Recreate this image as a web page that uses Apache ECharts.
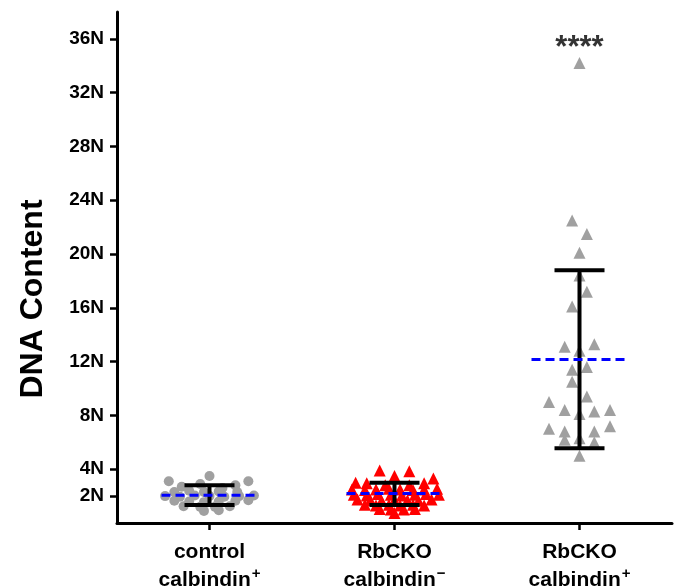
<!DOCTYPE html>
<html>
<head>
<meta charset="utf-8">
<script src="https://cdn.jsdelivr.net/npm/echarts@6/dist/echarts.min.js"></script>
<style>
  html, body { margin: 0; padding: 0; background: #fff; }
  #chart { width: 678px; height: 588px; }
</style>
</head>
<body>
<div id="chart"></div>
<script>
// group labels (top line, bottom line, superscript sign)
const groupTop = ['control', 'RbCKO', 'RbCKO'];
const groupSign = ['+', '\u2212', '+'];

// y tick values (in N)
const yTicks = [2, 4, 8, 12, 16, 20, 24, 28, 32, 36];

// control calbindin+ : DNA content and horizontal jitter (in group widths)
const ctrlVals = [3.5, 3.1, 3.1, 2.7, 2.8, 2.9, 2.6, 2.3, 2.4, 2.3, 2.35, 2.3,
  2.0, 1.95, 2.05, 2.0, 1.95, 2.0, 2.05, 1.65, 1.6, 1.55, 1.6, 1.65, 1.7,
  1.25, 1.2, 1.2, 1.25, 0.9, 0.95];
const ctrlJitter = [0, -0.22, 0.21, -0.15, 0.14, -0.05, 0.07, -0.19, -0.11, -0.03, 0.05, 0.15,
  -0.24, -0.16, -0.08, 0, 0.08, 0.16, 0.24, -0.19, -0.11, -0.03, 0.05, 0.14, 0.21,
  -0.14, -0.05, 0.03, 0.11, -0.03, 0.05];

// RbCKO calbindin-
const negVals = [3.9, 3.85, 3.5, 3.0, 2.95, 3.3, 2.95, 2.8, 2.8,
  2.5, 2.45, 2.5, 2.55, 2.5, 2.45, 2.5, 2.55,
  2.1, 2.05, 2.15, 2.1, 2.05, 2.1, 2.15, 2.1,
  1.75, 1.7, 1.65, 1.7, 1.7, 1.65, 1.75,
  1.35, 1.3, 1.35, 1.3, 1.35, 1.3,
  1.05, 1.0, 1.0, 1.05, 0.75];
const negJitter = [-0.08, 0.08, 0, -0.21, -0.15, 0.21, 0.16, -0.05, 0.08,
  -0.23, -0.16, -0.1, -0.03, 0.03, 0.1, 0.16, 0.23,
  -0.22, -0.15, -0.09, -0.02, 0.04, 0.11, 0.17, 0.24,
  -0.2, -0.13, -0.07, 0, 0.07, 0.13, 0.2,
  -0.16, -0.1, -0.03, 0.03, 0.1, 0.16,
  -0.08, -0.02, 0.05, 0.11, 0];

// RbCKO calbindin+
const posVals = [34.2, 22.5, 21.5, 20.1, 18.4, 17.2, 16.1, 13.1, 12.8, 13.3, 11.4, 11.6,
  10.5, 9.4, 9.0, 8.4, 8.1, 8.3, 8.4, 7.0, 6.8, 6.8, 7.2, 6.2, 6.3, 6.0, 5.0];
const posJitter = [0, -0.04, 0.04, 0, 0, 0.04, -0.04, -0.08, 0, 0.08, -0.04, 0.04,
  -0.04, 0.04, -0.165, -0.08, 0, 0.08, 0.165, -0.165, -0.08, 0.08, 0.165, -0.08, 0, 0.08, 0];

// mean and error bar limits per group
const meanVals = [2.07, 2.2, 12.15];
const barLow = [1.33, 1.33, 5.55];
const barHigh = [2.8, 3.0, 18.8];

// significance mark
const sigText = '****';
const sigY = 35.3;

const chart = echarts.init(document.getElementById('chart'));

const font = 'Liberation Sans, Arial, sans-serif';

function pts(vals, jit, g) {
  return vals.map((v, i) => [g + jit[i], v]);
}

const option = {
  animation: false,
  grid: { left: 117, right: 6, top: 12, bottom: 65, outerBoundsMode: 'none', containLabel: false },
  xAxis: {
    type: 'value',
    min: 0.5,
    max: 3.5,
    splitLine: { show: false },
    axisLine: { lineStyle: { color: '#000', width: 3 } },
    axisTick: { customValues: [1, 2, 3], length: 7, lineStyle: { color: '#000', width: 2.5 } },
    axisLabel: {
      customValues: [1, 2, 3],
      margin: 15,
      formatter: v => {
        const i = Math.round(v) - 1;
        return '{b|' + groupTop[i] + '}\n{b|calbindin}{s|' + groupSign[i] + '}';
      },
      rich: {
        b: { fontFamily: font, fontWeight: 'bold', fontSize: 21, lineHeight: 28, color: '#000' },
        s: { fontFamily: font, fontWeight: 'bold', fontSize: 15, lineHeight: 28, color: '#000',
             verticalAlign: 'top', padding: [0, 0, 0, 1] }
      }
    }
  },
  yAxis: {
    type: 'value',
    min: 0,
    max: 38,
    splitLine: { show: false },
    axisLine: { show: true, lineStyle: { color: '#000', width: 3 } },
    axisTick: { show: true, customValues: yTicks, length: 7, lineStyle: { color: '#000', width: 2.5 } },
    axisLabel: {
      customValues: yTicks,
      margin: 13,
      formatter: v => v + 'N',
      fontFamily: font,
      fontWeight: 'bold',
      fontSize: 19,
      color: '#000'
    }
  },
  graphic: [{
    type: 'text',
    x: 33,
    y: 299,
    rotation: Math.PI / 2,
    style: {
      text: 'DNA Content',
      font: 'bold 32px ' + font,
      fill: '#000',
      align: 'center',
      verticalAlign: 'middle'
    }
  }],
  series: [
    {
      type: 'scatter',
      symbol: 'circle',
      symbolSize: 10,
      itemStyle: { color: '#a0a0a0', opacity: 1 },
      data: pts(ctrlVals, ctrlJitter, 1)
    },
    {
      type: 'scatter',
      symbol: 'triangle',
      symbolSize: 12,
      itemStyle: { color: '#ff0000', opacity: 1 },
      data: pts(negVals, negJitter, 2)
    },
    {
      type: 'scatter',
      symbol: 'triangle',
      symbolSize: 12,
      itemStyle: { color: '#a0a0a0', opacity: 1 },
      data: pts(posVals, posJitter, 3)
    },
    {
      type: 'custom',
      renderItem: (params, api) => {
        const x = api.value(0);
        const pM = api.coord([x, api.value(1)]);
        const pLo = api.coord([x, api.value(2)]);
        const pHi = api.coord([x, api.value(3)]);
        const cap = 25, half = 48;
        const black = { stroke: '#000', lineWidth: 4 };
        return {
          type: 'group',
          children: [
            { type: 'line', shape: { x1: pLo[0], y1: pLo[1], x2: pHi[0], y2: pHi[1] }, style: black },
            { type: 'line', shape: { x1: pLo[0] - cap, y1: pLo[1], x2: pLo[0] + cap, y2: pLo[1] }, style: black },
            { type: 'line', shape: { x1: pHi[0] - cap, y1: pHi[1], x2: pHi[0] + cap, y2: pHi[1] }, style: black },
            { type: 'line', shape: { x1: pM[0] - half, y1: pM[1], x2: pM[0] + half, y2: pM[1] },
              style: { stroke: '#0000ff', lineWidth: 3, lineDash: [9, 5] } }
          ]
        };
      },
      data: meanVals.map((m, i) => [i + 1, m, barLow[i], barHigh[i]]),
      z: 5
    },
    {
      type: 'scatter',
      symbolSize: 0,
      silent: true,
      label: {
        show: true,
        position: 'inside',
        formatter: sigText,
        fontFamily: font,
        fontWeight: 'bold',
        fontSize: 31,
        color: '#000'
      },
      data: [[3, sigY]]
    }
  ]
};

chart.setOption(option);
</script>
</body>
</html>
